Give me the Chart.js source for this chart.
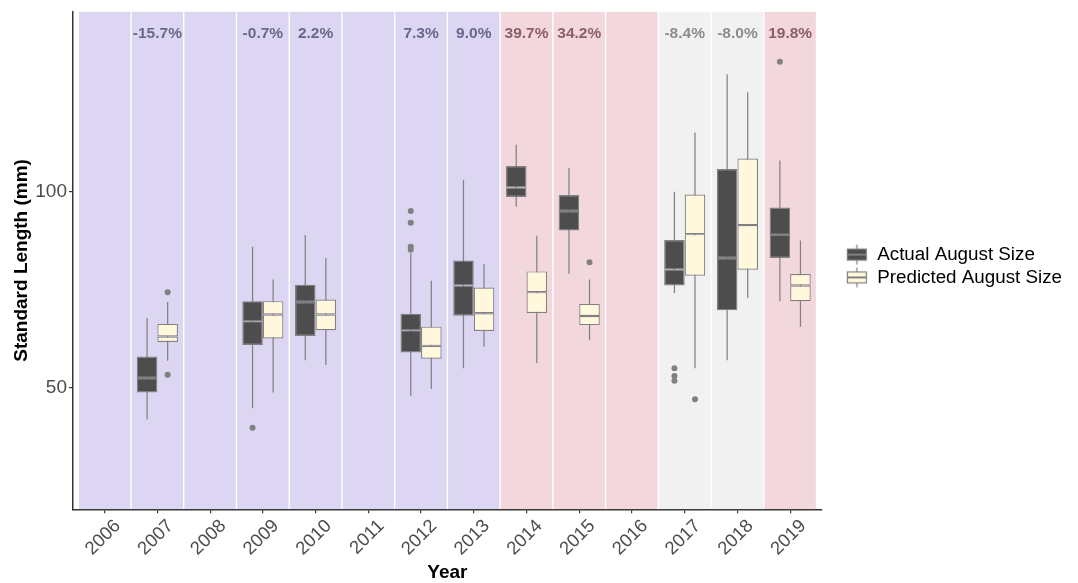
<!DOCTYPE html>
<html>
<head>
<meta charset="utf-8">
<script src="https://cdn.jsdelivr.net/npm/chart.js@4.4.0/dist/chart.umd.min.js"></script>
<style>
  html, body { margin: 0; padding: 0; background: #fff; }
  #wrap { width: 1078px; height: 583px; }
</style>
</head>
<body>
<div id="wrap"><canvas id="sizeChart"></canvas></div>
<script>
// years on the x axis
const years = ['2006', '2007', '2008', '2009', '2010', '2011', '2012',
               '2013', '2014', '2015', '2016', '2017', '2018', '2019'];

// difference label printed at the top of each year
const pctLabels = ['', '-15.7%', '', '-0.7%', '2.2%', '', '7.3%',
                   '9.0%', '39.7%', '34.2%', '', '-8.4%', '-8.0%', '19.8%'];

// background class of each year
const yearClass = ['low', 'low', 'low', 'low', 'low', 'low', 'low',
                   'low', 'high', 'high', 'high', 'mid', 'mid', 'high'];

// [min, q1, median, q3, max]  (null = no fish that year)
const actualStats = [
  null,
  [41.9, 48.8, 52.5, 58.0, 67.8],
  null,
  [44.8, 60.9, 67.0, 72.1, 86.0],
  [57.0, 63.2, 71.9, 76.3, 89.0],
  null,
  [48.0, 59.0, 64.7, 68.9, 84.3],
  [55.0, 68.4, 76.1, 82.5, 103.0],
  [96.2, 98.7, 101.1, 106.6, 112.0],
  [79.1, 90.1, 95.1, 99.2, 106.1],
  null,
  [74.2, 76.1, 80.1, 87.7, 100.0],
  [57.0, 69.8, 83.1, 105.8, 130.0],
  [72.1, 83.1, 89.0, 96.0, 108.0]
];

const predictedStats = [
  null,
  [56.9, 61.7, 63.1, 66.3, 71.9],
  null,
  [48.8, 62.6, 68.7, 72.1, 77.6],
  [55.8, 64.7, 68.7, 72.5, 83.1],
  null,
  [49.7, 57.4, 60.7, 65.6, 77.3],
  [60.5, 64.5, 69.0, 75.6, 81.5],
  [56.3, 69.1, 74.4, 79.7, 88.8],
  [62.1, 66.0, 68.3, 71.4, 77.6],
  null,
  [55.0, 78.6, 89.2, 99.3, 115.1],
  [72.9, 80.1, 91.5, 108.5, 125.4],
  [65.6, 72.1, 76.1, 79.0, 87.6]
];

const actualOutliers = [[], [], [], [39.8], [], [], [95.1, 92.1, 86.0, 85.2],
                        [], [], [], [], [55.0, 53.0, 51.8], [], [133.2]];
const predictedOutliers = [[], [74.4, 53.3], [], [], [], [], [],
                           [], [], [82.0], [], [47.1], [], []];

const Y_MIN = 19, Y_MAX = 146;
const CAT_PCT = 0.78;
const dodge = CAT_PCT / 4;   // centre of each box inside its year, in x units

const FONT = '"Liberation Sans", Arial, sans-serif';
const bandColors = { low: '#dcd6f3', high: '#f2d8dd', mid: '#f1f1f1' };
const labelColors = { low: '#6c668c', high: '#8c5e68', mid: '#8c8c8c' };
const GREY = '#808080';
const ACTUAL_FILL = '#4d4d4d';
const PRED_FILL = '#fff8dc';

function boxPart(stats, lo, hi) {
  return stats.map((s, i) => s ? { x: i, y: [s[lo], s[hi]] } : null).filter(Boolean);
}

function outlierPoints(list, shift) {
  const pts = [];
  list.forEach((vals, i) => vals.forEach(v => pts.push({ x: i + shift, y: v })));
  return pts;
}

// legend key: a little box with whisker, drawn at the right of a wider canvas
function legendGlyph(fill) {
  const c = document.createElement('canvas');
  c.width = 42; c.height = 24;
  const g = c.getContext('2d');
  g.strokeStyle = GREY;
  g.lineWidth = 1.2;
  g.beginPath(); g.moveTo(31, 2); g.lineTo(31, 22); g.stroke();
  g.fillStyle = fill;
  g.fillRect(21.5, 6.5, 19, 11);
  g.strokeRect(21.5, 6.5, 19, 11);
  g.lineWidth = 2;
  g.beginPath(); g.moveTo(21.5, 12); g.lineTo(40.5, 12); g.stroke();
  return c;
}

function boxDatasets(stats, stack, fill) {
  const boxStyle = {
    stack: stack, order: 1, backgroundColor: fill, borderColor: GREY,
    borderWidth: 1.2, borderSkipped: false,
    categoryPercentage: CAT_PCT, barPercentage: 1
  };
  return [
    Object.assign({ label: stack + ' lower', data: boxPart(stats, 1, 2) }, boxStyle),
    Object.assign({ label: stack + ' upper', data: boxPart(stats, 2, 3) }, boxStyle),
    {
      label: stack + ' whisker', data: boxPart(stats, 0, 4), stack: stack, order: 2,
      backgroundColor: GREY, borderWidth: 0,
      categoryPercentage: CAT_PCT, barPercentage: 0.06
    }
  ];
}

const pctLabelPlugin = {
  id: 'pctLabels',
  afterDatasetsDraw(chart) {
    const { ctx, chartArea, scales: { x } } = chart;
    ctx.save();
    ctx.font = 'bold 15.5px ' + FONT;
    ctx.textAlign = 'center';
    ctx.textBaseline = 'middle';
    pctLabels.forEach((t, i) => {
      if (!t) return;
      ctx.fillStyle = labelColors[yearClass[i]];
      ctx.fillText(t, x.getPixelForValue(i), chartArea.top + 22.5);
    });
    ctx.restore();
  }
};

new Chart(document.getElementById('sizeChart'), {
  type: 'bar',
  data: {
    datasets: [
      ...boxDatasets(actualStats, 'actual', ACTUAL_FILL),
      ...boxDatasets(predictedStats, 'predicted', PRED_FILL),
      {
        type: 'scatter', label: 'actual outliers', order: 0,
        data: outlierPoints(actualOutliers, -dodge),
        pointRadius: 3, pointBackgroundColor: GREY, pointBorderWidth: 0
      },
      {
        type: 'scatter', label: 'predicted outliers', order: 0,
        data: outlierPoints(predictedOutliers, dodge),
        pointRadius: 3, pointBackgroundColor: GREY, pointBorderWidth: 0
      },
      {
        label: 'bands', order: 10, grouped: false,
        data: years.map((y, i) => ({ x: i, y: [Y_MIN, Y_MAX] })),
        backgroundColor: yearClass.map(c => bandColors[c]),
        borderColor: '#ffffff',
        borderWidth: { left: 1, right: 1, top: 0, bottom: 0 },
        borderSkipped: false,
        categoryPercentage: 1, barPercentage: 1
      }
    ]
  },
  options: {
    responsive: true,
    maintainAspectRatio: false,
    animation: false,
    layout: { padding: { left: 3.5, right: 6, top: 2, bottom: 0 } },
    plugins: {
      tooltip: { enabled: false },
      legend: {
        position: 'right',
        fullSize: false,
        title: { display: true, text: ' ', font: { size: 6 }, padding: 2 },
        labels: {
          usePointStyle: true,
          pointStyleWidth: 42,
          boxWidth: 42,
          padding: 4,
          color: '#000',
          font: { family: FONT, size: 18.8 },
          generateLabels: () => [
            { text: 'Actual August Size', pointStyle: legendGlyph(ACTUAL_FILL), fontColor: '#000', hidden: false, lineWidth: 0, datasetIndex: 0 },
            { text: 'Predicted August Size', pointStyle: legendGlyph(PRED_FILL), fontColor: '#000', hidden: false, lineWidth: 0, datasetIndex: 3 }
          ]
        }
      }
    },
    scales: {
      x: {
        type: 'linear',
        min: -0.6,
        max: 13.6,
        offset: false,
        ticks: {
          stepSize: 1,
          includeBounds: false,
          autoSkip: false,
          maxRotation: 45,
          minRotation: 45,
          padding: 2,
          labelOffset: 13,
          color: '#4d4d4d',
          font: { family: FONT, size: 18.5 },
          callback: v => years[v]
        },
        grid: { display: true, offset: false, drawOnChartArea: false, drawTicks: true, tickLength: 4, color: '#333', lineWidth: 1.2 },
        border: { display: true, color: '#333', width: 1.5 },
        title: { display: true, text: 'Year', color: '#000', font: { family: FONT, size: 19, weight: 'bold', lineHeight: 1.1 }, padding: { top: 0, bottom: 0 } }
      },
      y: {
        min: Y_MIN,
        max: Y_MAX,
        stacked: false,
        beginAtZero: false,
        ticks: {
          stepSize: 50,
          includeBounds: false,
          padding: 2,
          color: '#4d4d4d',
          font: { family: FONT, size: 19, lineHeight: 1 }
        },
        grid: { display: true, drawOnChartArea: false, drawTicks: true, tickLength: 4, color: '#333', lineWidth: 1.2 },
        border: { display: true, color: '#333', width: 1.5 },
        title: { display: true, text: 'Standard Length (mm)', color: '#000', font: { family: FONT, size: 19, weight: 'bold' }, padding: { top: 7, bottom: 0 } }
      }
    }
  },
  plugins: [pctLabelPlugin]
});
</script>
</body>
</html>
